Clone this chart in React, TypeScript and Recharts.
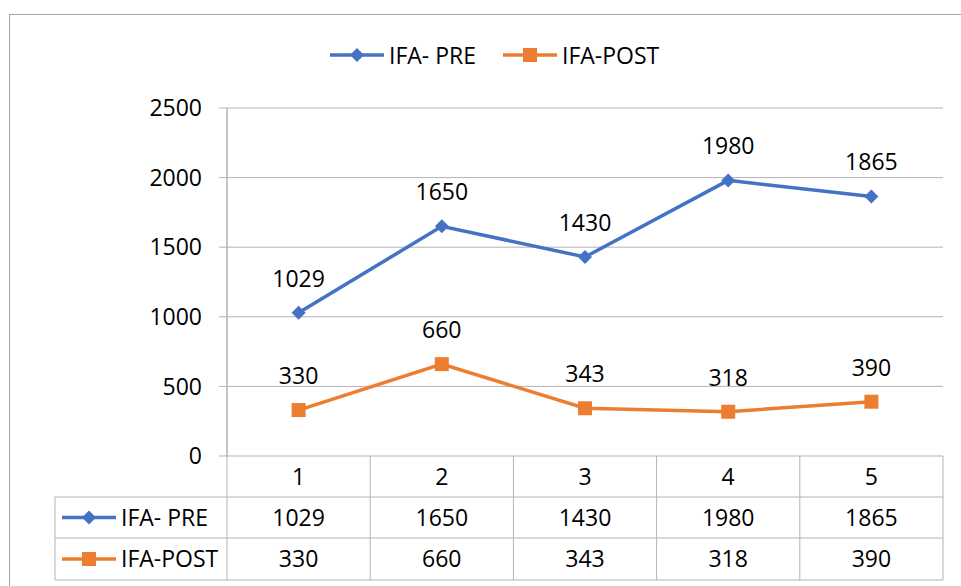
import { LineChart, Line, XAxis, YAxis, CartesianGrid, LabelList, Legend } from "recharts";

// chart values
const categories = ["1", "2", "3", "4", "5"];
const ifaPre = [1029, 1650, 1430, 1980, 1865];
const ifaPost = [330, 660, 343, 318, 390];
const yTicks = [0, 500, 1000, 1500, 2000, 2500];
const seriesNames = ["IFA- PRE", "IFA-POST"];

const data = categories.map((c, i) => ({ cat: c, pre: ifaPre[i], post: ifaPost[i] }));

const BLUE = "#4472C4";
const ORANGE = "#ED7D31";
const GRID = "#B3B3B3";
const FONT = "'Open Sans', sans-serif";
const FS = 23;

const W = 961;
const H = 586;
const MARGIN = { top: 108, right: 18, bottom: 6, left: 0 };
const Y_AXIS_W = 227;
const X_AXIS_H = 124;
const PLOT_LEFT = MARGIN.left + Y_AXIS_W;
const PLOT_RIGHT = W - MARGIN.right;
const PLOT_TOP = MARGIN.top;
const PLOT_BOTTOM = H - MARGIN.bottom - X_AXIS_H;
const COL_W = (PLOT_RIGHT - PLOT_LEFT) / categories.length;
const ROWS = [PLOT_BOTTOM, 497, 538, 580];
const TABLE_LEFT = 55;

function Marker({ kind, cx, cy }: { kind: "diamond" | "square"; cx: number; cy: number }) {
  if (kind === "diamond") {
    const r = 7;
    return (
      <polygon
        points={`${cx},${cy - r} ${cx + r},${cy} ${cx},${cy + r} ${cx - r},${cy}`}
        fill={BLUE}
      />
    );
  }
  const s = 7;
  return <rect x={cx - s} y={cy - s} width={s * 2} height={s * 2} fill={ORANGE} />;
}

function SeriesIcon({ kind, x, y }: { kind: "diamond" | "square"; x: number; y: number }) {
  const color = kind === "diamond" ? BLUE : ORANGE;
  return (
    <g>
      <line x1={x} y1={y} x2={x + 54} y2={y} stroke={color} strokeWidth={3.5} />
      <Marker kind={kind} cx={x + 27} cy={y} />
    </g>
  );
}

const PreDot = (p: any) => <Marker key={`pre-${p.index}`} kind="diamond" cx={p.cx} cy={p.cy} />;
const PostDot = (p: any) => <Marker key={`post-${p.index}`} kind="square" cx={p.cx} cy={p.cy} />;

// x axis tick draws one column of the data table
function TableTick(props: any) {
  const { x, index, payload } = props;
  const left = x - COL_W / 2;
  const right = x + COL_W / 2;
  const mid = (a: number, b: number) => (a + b) / 2;
  const txt = { fontFamily: FONT, fontSize: FS, fill: "#000" };
  return (
    <g>
      <line x1={right} y1={ROWS[0]} x2={right} y2={ROWS[3]} stroke={GRID} />
      {index === 0 && (
        <g>
          <line x1={left} y1={PLOT_TOP} x2={left} y2={ROWS[3]} stroke={GRID} />
          <line x1={TABLE_LEFT} y1={ROWS[1]} x2={TABLE_LEFT} y2={ROWS[3]} stroke={GRID} />
          {[1, 2, 3].map((r) => (
            <line key={r} x1={TABLE_LEFT} y1={ROWS[r]} x2={PLOT_RIGHT} y2={ROWS[r]} stroke={GRID} />
          ))}
          <SeriesIcon kind="diamond" x={62} y={mid(ROWS[1], ROWS[2])} />
          <text x={121} y={mid(ROWS[1], ROWS[2])} dy="0.355em" {...txt}>
            {seriesNames[0]}
          </text>
          <SeriesIcon kind="square" x={62} y={mid(ROWS[2], ROWS[3])} />
          <text x={121} y={mid(ROWS[2], ROWS[3])} dy="0.355em" {...txt}>
            {seriesNames[1]}
          </text>
        </g>
      )}
      <text x={x} y={mid(ROWS[0], ROWS[1])} dy="0.355em" textAnchor="middle" {...txt}>
        {payload.value}
      </text>
      <text x={x} y={mid(ROWS[1], ROWS[2])} dy="0.355em" textAnchor="middle" {...txt}>
        {ifaPre[index]}
      </text>
      <text x={x} y={mid(ROWS[2], ROWS[3])} dy="0.355em" textAnchor="middle" {...txt}>
        {ifaPost[index]}
      </text>
    </g>
  );
}

function LegendContent() {
  const kinds: ("diamond" | "square")[] = ["diamond", "square"];
  return (
    <div style={{ display: "flex", alignItems: "center", gap: 27, fontFamily: FONT, fontSize: FS, lineHeight: "30px" }}>
      {seriesNames.map((n, i) => (
        <div key={n} style={{ display: "flex", alignItems: "center", gap: 5 }}>
          <svg width={54} height={16}>
            <SeriesIcon kind={kinds[i]} x={0} y={8} />
          </svg>
          <span>{n}</span>
        </div>
      ))}
    </div>
  );
}

export default function App() {
  return (
    <div
      style={{
        position: "absolute",
        left: 0,
        top: 0,
        width: W,
        height: H,
        overflow: "hidden",
        background: "#fff",
      }}
    >
      <div
        style={{
          position: "absolute",
          left: 9,
          top: 14,
          width: 1000,
          height: 700,
          border: "1.5px solid #A6A6A6",
        }}
      />
      <LineChart width={W} height={H} data={data} margin={MARGIN}>
        <CartesianGrid vertical={false} stroke={GRID} />
        <XAxis
          dataKey="cat"
          height={X_AXIS_H}
          axisLine={false}
          tickLine={false}
          interval={0}
          padding={{ left: COL_W / 2, right: COL_W / 2 }}
          tick={<TableTick />}
        />
        <YAxis
          width={Y_AXIS_W}
          domain={[0, 2500]}
          ticks={yTicks}
          interval={0}
          axisLine={{ stroke: GRID }}
          tickLine={{ stroke: GRID }}
          tickSize={8}
          tickMargin={17}
          tick={{ fill: "#000", fontSize: FS, fontFamily: FONT }}
        />
        <Legend
          verticalAlign="middle"
          align="center"
          content={<LegendContent />}
          wrapperStyle={{ top: 40, left: 330, width: 500 }}
        />
        <Line
          dataKey="pre"
          name={seriesNames[0]}
          stroke={BLUE}
          strokeWidth={3.5}
          dot={PreDot}
          activeDot={false}
          isAnimationActive={false}
        >
          <LabelList dataKey="pre" position="top" offset={26} fill="#000" fontSize={FS} fontFamily={FONT} />
        </Line>
        <Line
          dataKey="post"
          name={seriesNames[1]}
          stroke={ORANGE}
          strokeWidth={3.5}
          dot={PostDot}
          activeDot={false}
          isAnimationActive={false}
        >
          <LabelList dataKey="post" position="top" offset={26} fill="#000" fontSize={FS} fontFamily={FONT} />
        </Line>
      </LineChart>
    </div>
  );
}
